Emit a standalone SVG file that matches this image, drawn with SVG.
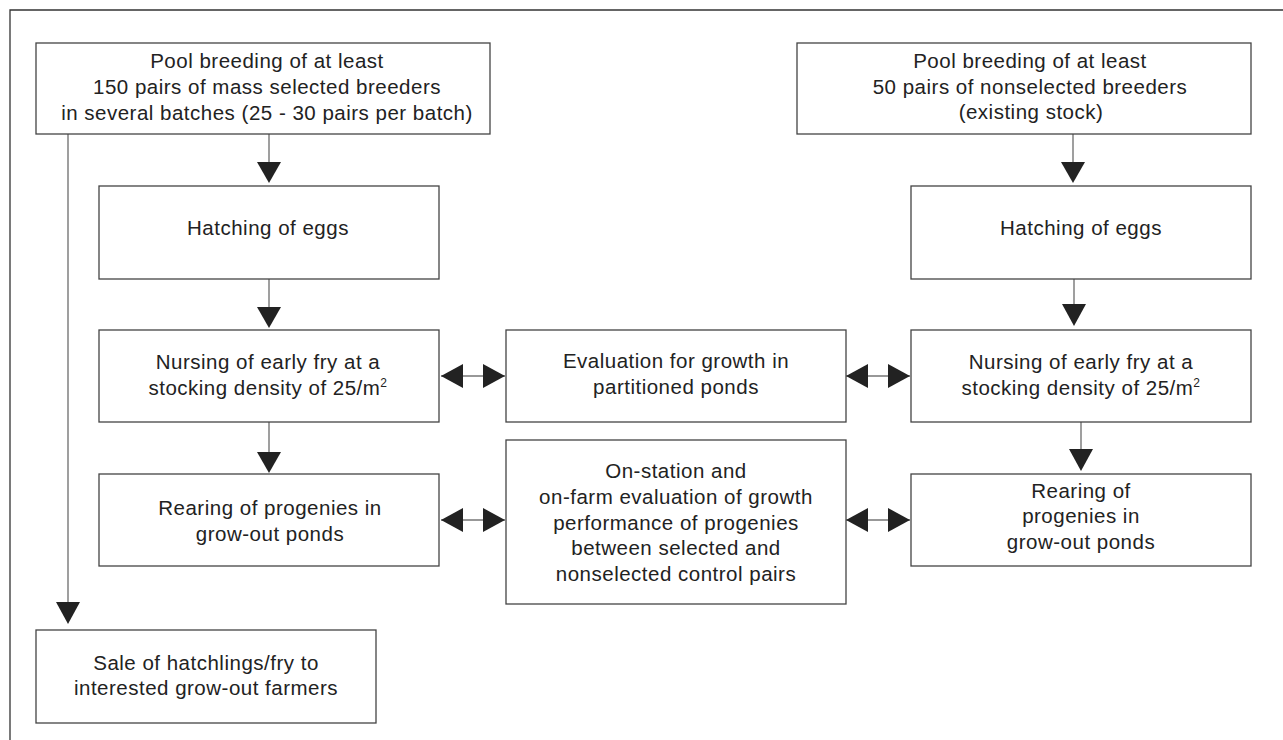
<svg xmlns="http://www.w3.org/2000/svg" width="1283" height="740" viewBox="0 0 1283 740">
<style>
.box{fill:#fff;stroke:#444;stroke-width:1.3}
.t{font-family:"Liberation Sans",Arial,sans-serif;font-size:20.5px;letter-spacing:0.5px;fill:#222;text-anchor:middle}
.ln{stroke:#777;stroke-width:1.4;fill:none}
.hd{fill:#222;stroke:none}
.frame{stroke:#333;stroke-width:1.3;fill:none}
</style>
<rect width="1283" height="740" fill="#fff"/>
<g id="frame"><path class="frame" d="M10,740 V10 H1283"/></g>
<g id="connectors">
<path class="ln" d="M269,134V164M269,279V309M269,422V454M68,134V604M1073,134V164M1074,275V305M1081,422V451M441,376H505M846,376H910M441,520H505M846,520H910"/>
<polygon class="hd" points="257,162 281,162 269,183"/>
<polygon class="hd" points="257,307 281,307 269,328"/>
<polygon class="hd" points="257,452 281,452 269,473"/>
<polygon class="hd" points="56,602 80,602 68,624"/>
<polygon class="hd" points="1061,162 1085,162 1073,183"/>
<polygon class="hd" points="1062,304 1086,304 1074,326"/>
<polygon class="hd" points="1069,449 1093,449 1081,471"/>
<polygon class="hd" points="441,376 463,364 463,388"/>
<polygon class="hd" points="505,376 483,364 483,388"/>
<polygon class="hd" points="846,376 868,364 868,388"/>
<polygon class="hd" points="910,376 888,364 888,388"/>
<polygon class="hd" points="441,520 463,508 463,532"/>
<polygon class="hd" points="505,520 483,508 483,532"/>
<polygon class="hd" points="846,520 868,508 868,532"/>
<polygon class="hd" points="910,520 888,508 888,532"/>
</g>
<g id="poolSelected"><rect class="box" x="36" y="43" width="454" height="91"/>
<text class="t" x="267" y="68">Pool breeding of at least</text>
<text class="t" x="267" y="94">150 pairs of mass selected breeders</text>
<text class="t" x="267" y="120">in several batches (25 - 30 pairs per batch)</text></g>
<g id="poolNonselected"><rect class="box" x="797" y="43" width="454" height="91"/>
<text class="t" x="1030" y="68">Pool breeding of at least</text>
<text class="t" x="1030" y="94">50 pairs of nonselected breeders</text>
<text class="t" x="1031" y="119">(existing stock)</text></g>
<g id="hatchLeft"><rect class="box" x="99" y="186" width="340" height="93"/>
<text class="t" x="268" y="235">Hatching of eggs</text></g>
<g id="hatchRight"><rect class="box" x="911" y="186" width="340" height="93"/>
<text class="t" x="1081" y="235">Hatching of eggs</text></g>
<g id="nurseLeft"><rect class="box" x="99" y="330" width="340" height="92"/>
<text class="t" x="268" y="369">Nursing of early fry at a</text>
<text class="t" x="268" y="395">stocking density of 25/m<tspan font-size="12" dy="-8">2</tspan></text></g>
<g id="evalGrowth"><rect class="box" x="506" y="330" width="340" height="92"/>
<text class="t" x="676" y="368">Evaluation for growth in</text>
<text class="t" x="676" y="394">partitioned ponds</text></g>
<g id="nurseRight"><rect class="box" x="911" y="330" width="340" height="92"/>
<text class="t" x="1081" y="369">Nursing of early fry at a</text>
<text class="t" x="1081" y="395">stocking density of 25/m<tspan font-size="12" dy="-8">2</tspan></text></g>
<g id="rearLeft"><rect class="box" x="99" y="474" width="340" height="92"/>
<text class="t" x="270" y="515">Rearing of progenies in</text>
<text class="t" x="270" y="541">grow-out ponds</text></g>
<g id="onStation"><rect class="box" x="506" y="440" width="340" height="164"/>
<text class="t" x="676" y="478">On-station and</text>
<text class="t" x="676" y="504">on-farm evaluation of growth</text>
<text class="t" x="676" y="530">performance of progenies</text>
<text class="t" x="676" y="555">between selected and</text>
<text class="t" x="676" y="581">nonselected control pairs</text></g>
<g id="rearRight"><rect class="box" x="911" y="474" width="340" height="92"/>
<text class="t" x="1081" y="498">Rearing of</text>
<text class="t" x="1081" y="523">progenies in</text>
<text class="t" x="1081" y="549">grow-out ponds</text></g>
<g id="sale"><rect class="box" x="36" y="630" width="340" height="93"/>
<text class="t" x="206" y="670">Sale of hatchlings/fry to</text>
<text class="t" x="206" y="695">interested grow-out farmers</text></g>
</svg>
